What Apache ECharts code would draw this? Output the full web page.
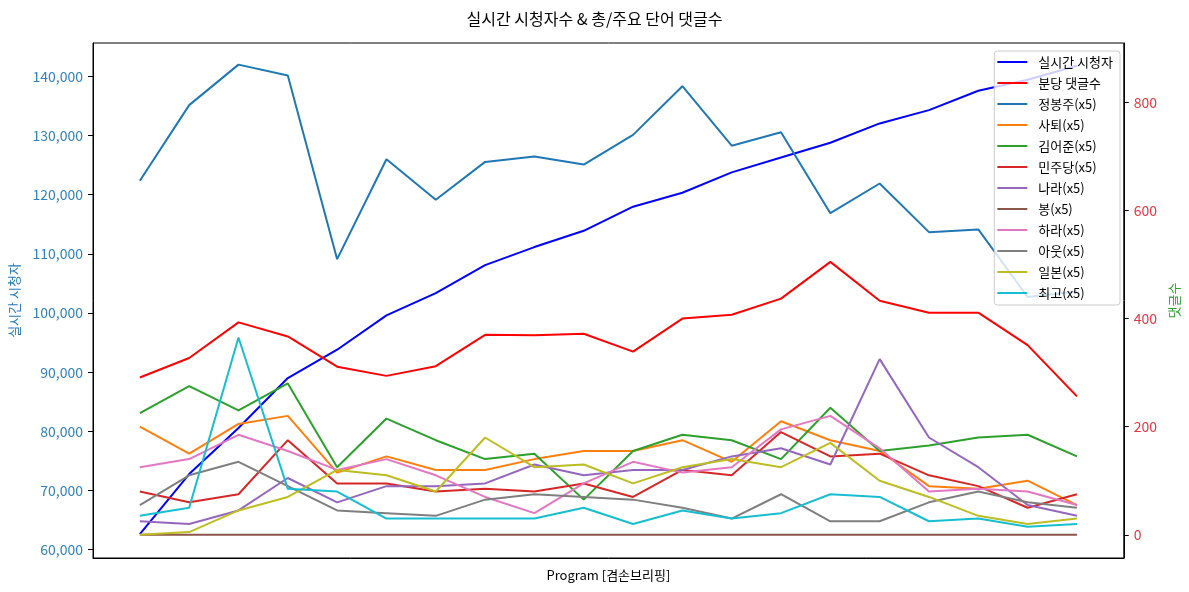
<!DOCTYPE html>
<html><head><meta charset="utf-8">
<script src="https://cdn.jsdelivr.net/npm/echarts@6/dist/echarts.min.js"></script>
<style>html,body{margin:0;padding:0;background:#fff}#c{width:1189px;height:592px}</style>
</head><body><div id="c"></div>
<script>
// x positions (program index, no tick labels shown)
const xIndex = [0,1,2,3,4,5,6,7,8,9,10,11,12,13,14,15,16,17,18,19];

// left axis: live viewers
const viewers = [62650,72790,80570,89020,93800,99600,103380,108100,111150,113900,117970,120330,123770,126300,128780,132050,134300,137570,139430,141800];

// right axis: comments per minute
const commentsPerMin = [291,327,393,367,311,294,312,370,369,372,339,400,407,437,505,433,411,411,351,256];

// keyword counts (x5)
const jeongBongJu = [655,795,870,850,510,695,620,690,700,685,740,830,720,745,595,650,560,565,440,450];
const satoe      = [200,150,205,220,115,145,120,120,140,155,155,175,135,210,175,155,90,85,100,55];
const kimEoJun   = [225,275,230,280,125,215,175,140,150,65,155,185,175,140,235,155,165,180,185,145];
const minjudang  = [80,60,75,175,95,95,80,85,80,95,70,120,110,190,145,150,110,90,50,75];
const nara       = [25,20,45,105,60,90,90,95,130,110,120,120,145,160,130,325,180,125,55,35];
const bong       = [0,0,0,0,0,0,0,0,0,0,0,0,0,0,0,0,0,0,0,0];
const hara       = [125,140,185,155,120,140,110,70,40,95,135,115,125,195,220,160,80,85,80,55];
const aut        = [55,110,135,90,45,40,35,65,75,70,65,50,30,75,25,25,60,80,60,50];
const ilbon      = [0,5,45,70,120,110,80,180,125,130,95,125,140,125,170,100,70,35,20,30];
const choego     = [35,50,365,85,80,30,30,30,30,50,20,45,30,40,75,70,25,30,15,20];

const leftTicks  = [60000,70000,80000,90000,100000,110000,120000,130000,140000];
const rightTicks = [0,200,400,600,800];

const seriesNames = ['실시간 시청자','분당 댓글수','정봉주(x5)','사퇴(x5)','김어준(x5)','민주당(x5)','나라(x5)','봉(x5)','하라(x5)','아웃(x5)','일본(x5)','최고(x5)'];
const seriesData  = [viewers, commentsPerMin, jeongBongJu, satoe, kimEoJun, minjudang, nara, bong, hara, aut, ilbon, choego];
const seriesColors = ['#0000ff','#ff0000','#1f77b4','#ff7f0e','#2ca02c','#d62728','#9467bd','#8c564b','#e377c2','#7f7f7f','#bcbd22','#17becf'];

const FONT = 'Noto Sans CJK KR';
const chart = echarts.init(document.getElementById('c'));

const series = seriesNames.map((name, k) => ({
  name: name,
  type: 'line',
  yAxisIndex: k === 0 ? 0 : 1,
  symbol: 'none',
  animation: false,
  lineStyle: { width: 2, color: seriesColors[k] },
  itemStyle: { color: seriesColors[k] },
  data: xIndex.map((x, i) => [x, seriesData[k][i]])
}));

chart.setOption({
  animation: false,
  textStyle: { fontFamily: FONT },
  title: {
    text: '실시간 시청자수 & 총/주요 단어 댓글수',
    left: 'center', top: 6,
    textStyle: { fontFamily: FONT, fontSize: 16, fontWeight: 'normal', color: '#000' }
  },
  grid: { left: 93, right: 63, top: 43, bottom: 34, show: true, borderColor: '#000', borderWidth: 1, containLabel: false },
  legend: {
    orient: 'vertical', right: 69, top: 51,
    itemWidth: 30, itemHeight: 14, itemGap: 7,
    icon: 'path://M0,0L30,0L30,2L0,2Z',
    padding: [4, 7, 5, 3],
    backgroundColor: 'rgba(255,255,255,0.8)',
    borderColor: '#cccccc', borderWidth: 1, borderRadius: 3,
    textStyle: { fontFamily: FONT, fontSize: 13, color: '#000', lineHeight: 14, padding: [0,0,0,6] },
    data: seriesNames
  },
  xAxis: {
    type: 'value', min: -0.95, max: 19.95,
    name: 'Program [겸손브리핑]', nameLocation: 'middle', nameGap: 11,
    nameTextStyle: { fontFamily: FONT, fontSize: 13, color: '#000' },
    axisLine: { show: true, onZero: false, lineStyle: { color: '#000', width: 1 } },
    axisTick: { show: false }, axisLabel: { show: false }, splitLine: { show: false }
  },
  yAxis: [
    {
      type: 'value', position: 'left', min: 58600, max: 145640,
      name: '실시간 시청자', nameLocation: 'middle', nameRotate: 90, nameGap: 72,
      nameTextStyle: { fontFamily: FONT, fontSize: 13, color: '#1f77b4' },
      axisLine: { show: true, onZero: false, lineStyle: { color: '#000', width: 1 } },
      axisTick: { show: true, length: 5, lineStyle: { color: '#000' }, customValues: leftTicks },
      axisLabel: { margin: 10, fontSize: 14, fontFamily: FONT, color: '#2f82bd', customValues: leftTicks,
        formatter: v => v.toLocaleString('en-US') },
      splitLine: { show: false }
    },
    {
      type: 'value', position: 'right', min: -43, max: 910,
      name: '댓글수', nameLocation: 'middle', nameRotate: 90, nameGap: 36,
      nameTextStyle: { fontFamily: FONT, fontSize: 13, color: '#2ca02c' },
      axisLine: { show: true, onZero: false, lineStyle: { color: '#000', width: 1 } },
      axisTick: { show: true, length: 5, lineStyle: { color: '#000' }, customValues: rightTicks },
      axisLabel: { margin: 10, fontSize: 14, fontFamily: FONT, color: '#e0393e', customValues: rightTicks },
      splitLine: { show: false }
    }
  ],
  series: series
});
</script>
</body></html>
